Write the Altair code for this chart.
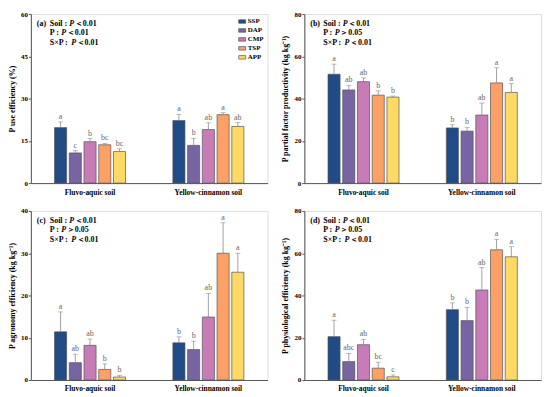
import altair as alt
import pandas as pd

soils = ["Fluvo-aquic soil", "Yellow-cinnamon soil"]
ferts = ["SSP", "DAP", "CMP", "TSP", "APP"]
colors = ["#1f4b86", "#7764a3", "#c77cb7", "#fda066", "#fed966"]

# (a) P use efficiency (%)
a_mean = [19.7, 10.7, 14.7, 13.6, 11.2, 22.2, 13.4, 19.0, 24.3, 20.1]
a_err = [2.0, 0.8, 1.1, 0.5, 1.0, 2.2, 2.5, 2.4, 0.7, 1.4]
a_let = ["a", "c", "b", "bc", "bc", "a", "b", "ab", "a", "ab"]
# (b) P partial factor productivity
b_mean = [51.5, 44.1, 48.0, 41.6, 40.7, 26.1, 24.6, 32.2, 47.4, 42.9]
b_err = [4.8, 2.2, 1.8, 2.1, 0.5, 1.5, 1.8, 5.7, 7.2, 4.2]
b_let = ["a", "ab", "ab", "b", "b", "b", "b", "ab", "a", "a"]
# (c) P agronomy efficiency
c_mean = [11.4, 4.1, 8.2, 2.5, 0.7, 8.8, 7.2, 14.9, 30.0, 25.5]
c_err = [4.7, 2.0, 1.5, 1.3, 0.4, 1.4, 2.0, 5.6, 7.2, 4.5]
c_let = ["a", "ab", "ab", "b", "b", "b", "b", "ab", "a", "a"]
# (d) P physiological efficiency
d_mean = [20.5, 8.7, 16.7, 5.6, 1.5, 33.3, 28.1, 42.6, 61.6, 58.3]
d_err = [7.8, 3.9, 2.5, 2.8, 0.9, 3.2, 6.3, 10.6, 5.0, 4.8]
d_let = ["a", "abc", "ab", "bc", "c", "b", "b", "ab", "a", "a"]

titles = ["P use efficiency (%)",
          "P partial factor productivity (kg kg\u207b\u00b9)",
          "P agronomy efficiency (kg kg\u207b\u00b9)",
          "P physiological efficiency (kg kg\u207b\u00b9)"]
tags = ["(a)", "(b)", "(c)", "(d)"]
ymaxs = [60, 80, 40, 80]
yticks = [[0, 15, 30, 45, 60], [0, 20, 40, 60, 80], [0, 10, 20, 30, 40], [0, 20, 40, 60, 80]]
p_effect = ["\uff1c0.01", "\uff1e0.05", "\uff1e0.05", "\uff1e0.05"]

FONT = "Liberation Serif"
W, H = 238, 170


def make_df(mean, err, let):
    rows = []
    for i, s in enumerate(soils):
        for j, f in enumerate(ferts):
            k = i * 5 + j
            rows.append({"soil": s, "fert": f, "value": mean[k],
                         "top": mean[k] + err[k], "letter": let[k]})
    return pd.DataFrame(rows)


def panel(idx, df, show_legend):
    x = alt.X("soil:N", sort=soils, title=None,
              scale=alt.Scale(paddingInner=0.4, paddingOuter=0.2),
              axis=alt.Axis(labelAngle=0, ticks=False, labelPadding=5,
                            labelFontSize=7.5, labelFontWeight="bold",
                            labelFont=FONT, domainColor="#555", labelColor="black"))
    xo = alt.XOffset("fert:N", sort=ferts, scale=alt.Scale(paddingInner=0.18))
    y = alt.Y("value:Q", title=titles[idx],
              scale=alt.Scale(domain=[0, ymaxs[idx]], nice=False),
              axis=alt.Axis(values=yticks[idx], grid=False, tickSize=2.5,
                            labelPadding=1, titlePadding=4,
                            labelFontSize=7, labelFontWeight="bold",
                            titleFontSize=8, titleFontWeight="bold",
                            labelFont=FONT, titleFont=FONT, labelColor="black",
                            titleColor="black",
                            domainColor="#555", tickColor="#555"))
    if show_legend:
        leg = alt.Legend(title=None, orient="top-right", offset=4, padding=0,
                         symbolType="M-1.4,-0.7H1.4V0.7H-1.4Z", symbolSize=25,
                         symbolStrokeColor="#555", symbolStrokeWidth=0.7,
                         labelFont=FONT, labelFontSize=7, labelFontWeight="bold",
                         labelColor="black", labelOffset=2, rowPadding=1)
    else:
        leg = None
    color = alt.Color("fert:N", sort=ferts,
                      scale=alt.Scale(domain=ferts, range=colors), legend=leg)
    base = alt.Chart(df)
    bars = base.mark_bar(stroke="#555", strokeWidth=0.7).encode(x=x, xOffset=xo, y=y, color=color)
    rule = base.mark_rule(color="#8a8a8a", strokeWidth=0.8).encode(
        x=x, xOffset=xo, y="value:Q", y2="top:Q")
    cap = base.mark_tick(color="#8a8a8a", thickness=0.8, size=5).encode(
        x=x, xOffset=xo, y="top:Q")
    txt = base.mark_text(dy=-5, fontSize=8, fill="#666666", font=FONT).encode(
        x=x, xOffset=xo, y="top:Q", text="letter:N", color=alt.value("#666666"))

    ann_rows = [
        {"t": tags[idx], "x": 6, "y": 10, "it": False},
        {"t": "Soil : ", "x": 19, "y": 10, "it": False},
        {"t": "P", "x": 19 + 19.6, "y": 10, "it": True},
        {"t": "\uff1c0.01", "x": 19 + 19.6 + 5.5, "y": 10, "it": False},
        {"t": "P : ", "x": 19, "y": 19.5, "it": False},
        {"t": "P", "x": 19 + 11.6, "y": 19.5, "it": True},
        {"t": p_effect[idx], "x": 19 + 11.6 + 5.5, "y": 19.5, "it": False},
        {"t": "S\u00d7P : ", "x": 19, "y": 29, "it": False},
        {"t": "P", "x": 19 + 21.5, "y": 29, "it": True},
        {"t": "\uff1c0.01", "x": 19 + 21.5 + 5.5, "y": 29, "it": False},
    ]
    layers = [bars, rule, cap, txt]
    for r in ann_rows:
        layers.append(
            alt.Chart(pd.DataFrame({"t": [r["t"]]})).mark_text(
                align="left", baseline="middle", fontSize=8, fontWeight="bold",
                fontStyle="italic" if r["it"] else "normal", font=FONT).encode(
                x=alt.value(r["x"]), y=alt.value(r["y"]), text="t:N",
                color=alt.value("black")))
    return alt.layer(*layers).properties(width=W, height=H)


dfs = [make_df(a_mean, a_err, a_let), make_df(b_mean, b_err, b_let),
       make_df(c_mean, c_err, c_let), make_df(d_mean, d_err, d_let)]
pa = panel(0, dfs[0], True)
pb = panel(1, dfs[1], False)
pc = panel(2, dfs[2], False)
pd_ = panel(3, dfs[3], False)

top = alt.hconcat(pa, pb, spacing=13).resolve_scale(y="independent", color="independent")
bot = alt.hconcat(pc, pd_, spacing=13).resolve_scale(y="independent", color="independent")
chart = alt.vconcat(top, bot, spacing=10).resolve_scale(
    y="independent", color="independent").properties(padding=0).configure_view(
    stroke="#555", strokeWidth=0.8).configure(font=FONT)

chart.save("out.html", embed_options={"renderer": "svg", "actions": False})
